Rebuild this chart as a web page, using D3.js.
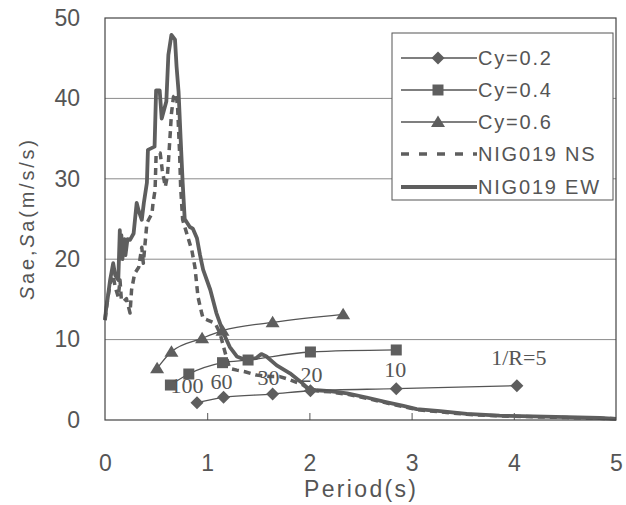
<!DOCTYPE html>
<html>
<head>
<meta charset="utf-8">
<script src="https://cdn.jsdelivr.net/npm/d3@7"></script>
<style>
  html, body { margin: 0; padding: 0; background: #fff; }
  svg { display: block; }
  text { fill: #555; }
</style>
</head>
<body>
<svg id="chart" width="626" height="505"></svg>
<script>
// ---------------- data ----------------
const rLabels = ["100", "60", "30", "20", "10", "1/R=5"];

const cy02T  = [0.90, 1.16, 1.64, 2.01, 2.85, 4.03];
const cy02Sa = [2.15, 2.82, 3.23, 3.64, 3.89, 4.27];

const cy04T  = [0.64, 0.82, 1.15, 1.40, 2.01, 2.85];
const cy04Sa = [4.35, 5.72, 7.13, 7.46, 8.46, 8.71];

const cy06T  = [0.51, 0.65, 0.95, 1.15, 1.64, 2.33];
const cy06Sa = [6.43, 8.50, 10.16, 11.11, 12.15, 13.15];

const ewT  = [0.00,0.01,0.03,0.05,0.08,0.10,0.13,0.145,0.15,0.16,0.17,0.19,0.20,0.22,0.245,0.28,0.31,0.33,0.36,0.38,0.41,0.42,0.485,0.50,0.535,0.555,0.60,0.62,0.65,0.685,0.70,0.72,0.74,0.76,0.78,0.83,0.86,0.90,0.93,0.96,1.03,1.09,1.16,1.22,1.29,1.37,1.48,1.53,1.58,1.68,1.81,1.91,1.99,2.07,2.20,2.37,2.56,2.76,2.92,3.05,3.28,3.54,3.86,4.19,4.52,4.84,5.00];
const ewSa = [12.4,13.7,15.5,17.4,19.5,18.0,17.4,23.6,20.5,23.0,20.0,22.5,20.5,22.5,22.4,23.2,27.0,26.0,24.9,27.0,29.5,33.6,34.0,41.0,41.0,37.5,39.6,45.4,47.9,47.3,44.0,40.8,35.0,29.5,25.0,24.0,23.8,22.6,20.5,18.7,16.2,13.3,10.8,9.1,7.9,7.5,7.7,8.2,7.9,6.8,5.8,4.8,3.9,3.7,3.6,3.3,2.8,2.2,1.75,1.35,1.1,0.75,0.55,0.45,0.35,0.25,0.15];

const nsT  = [0.00,0.02,0.05,0.08,0.10,0.13,0.147,0.16,0.18,0.21,0.245,0.26,0.29,0.33,0.36,0.375,0.41,0.46,0.47,0.49,0.50,0.54,0.56,0.59,0.61,0.62,0.63,0.64,0.65,0.67,0.695,0.71,0.73,0.74,0.76,0.80,0.85,0.88,0.91,0.946,0.96,1.01,1.08,1.125,1.16,1.19,1.21,1.22,1.29,1.37,1.48,1.61,1.71,1.81,1.94,2.00,2.10,2.20,2.37,2.56,2.76,2.92,3.05,3.28,3.54,3.86,4.19,4.52,4.84,5.00];
const nsSa = [12.5,14.5,17.0,18.0,16.5,15.3,17.4,15.0,14.7,15.1,13.3,16.2,18.2,19.0,21.5,19.5,24.5,25.7,27.0,28.6,33.0,33.2,31.1,29.0,30.3,32.0,34.0,36.0,38.1,40.2,40.6,39.0,33.2,29.0,24.9,23.2,21.1,19.0,15.3,13.3,12.65,12.4,12.0,10.8,9.1,7.7,6.85,6.4,6.2,6.0,5.6,5.4,5.4,5.0,4.35,3.75,3.6,3.5,3.2,2.7,2.1,1.65,1.3,1.0,0.7,0.5,0.4,0.3,0.22,0.15];

const xTicks = [0, 1, 2, 3, 4, 5];
const yTicks = [0, 10, 20, 30, 40, 50];
const legendNames = ["Cy=0.2", "Cy=0.4", "Cy=0.6", "NIG019 NS", "NIG019 EW"];

// ---------------- layout ----------------
const svg = d3.select("#chart");
const X0 = 105, X1 = 616, Y0 = 420, Y1 = 18;
const x = d3.scaleLinear().domain([0, 5]).range([X0, X1]);
const y = d3.scaleLinear().domain([0, 50]).range([Y0, Y1]);
const ink = "#5e5e5e";
const sansFont = "'Liberation Sans', Arial, sans-serif";
const serifFont = "'Liberation Serif', 'Times New Roman', serif";

const zip = (a, b) => a.map((v, i) => [v, b[i]]);

// gridlines
svg.append("g").selectAll("line")
  .data(yTicks.filter(v => v > 0 && v < 50))
  .join("line")
  .attr("x1", X0).attr("x2", X1)
  .attr("y1", d => y(d)).attr("y2", d => y(d))
  .attr("stroke", "#8a8a8a").attr("stroke-width", 1);

// inward ticks on bottom axis
const tickG = svg.append("g").attr("transform", `translate(0,${Y0})`)
  .call(d3.axisBottom(x).tickValues(xTicks.filter(v => v > 0 && v < 5)).tickSizeInner(-7).tickSizeOuter(0).tickFormat(""));
tickG.select(".domain").remove();
tickG.selectAll("line").attr("stroke", "#555");

// x tick labels
const xAx = svg.append("g").attr("transform", `translate(0,${Y0})`)
  .call(d3.axisBottom(x).tickValues(xTicks).tickSize(0).tickPadding(35).tickFormat(d3.format("d")));
xAx.select(".domain").remove();
xAx.selectAll("text").attr("font-family", sansFont).attr("font-size", 23).attr("fill", "#555");

// y tick labels
const yAx = svg.append("g").attr("transform", `translate(${X0},0)`)
  .call(d3.axisLeft(y).tickValues(yTicks).tickSize(0).tickPadding(25).tickFormat(d3.format("d")));
yAx.select(".domain").remove();
yAx.selectAll("text").attr("font-family", sansFont).attr("font-size", 23).attr("fill", "#555");

// axis titles
svg.append("text")
  .attr("x", 360).attr("y", 497)
  .attr("text-anchor", "middle")
  .attr("font-family", sansFont).attr("font-size", 23)
  .attr("textLength", 112).attr("lengthAdjust", "spacing")
  .text("Period(s)");

const yt = svg.append("text")
  .attr("transform", "translate(34,220) rotate(-90)")
  .attr("text-anchor", "middle")
  .attr("font-family", sansFont).attr("font-size", 20)
  .attr("textLength", 160).attr("lengthAdjust", "spacing");
yt.append("tspan").attr("font-style", "italic").text("S");
yt.append("tspan").text("ae,");
yt.append("tspan").attr("font-style", "italic").text("S");
yt.append("tspan").text("a(m/s/s)");

// ---------------- spectra ----------------
const line = d3.line().x(d => x(d[0])).y(d => y(d[1]));
const plot = svg.append("g");

plot.append("path")
  .datum(zip(nsT, nsSa))
  .attr("d", line)
  .attr("fill", "none").attr("stroke", ink)
  .attr("stroke-width", 3.5).attr("stroke-dasharray", "7,5")
  .attr("stroke-linejoin", "round");

plot.append("path")
  .datum(zip(ewT, ewSa))
  .attr("d", line)
  .attr("fill", "none").attr("stroke", ink)
  .attr("stroke-width", 3.8).attr("stroke-linejoin", "round");

// ---------------- Cy series ----------------
const shapes = {
  diamond: "M0,-6.5L6.5,0L0,6.5L-6.5,0Z",
  square: "M-5.5,-5.5H5.5V5.5H-5.5Z",
  triangle: "M0,-6.5L7,5L-7,5Z"
};
const series = [
  { name: legendNames[0], data: zip(cy02T, cy02Sa), shape: "diamond" },
  { name: legendNames[1], data: zip(cy04T, cy04Sa), shape: "square" },
  { name: legendNames[2], data: zip(cy06T, cy06Sa), shape: "triangle" }
];
const smooth = d3.line().x(d => x(d[0])).y(d => y(d[1])).curve(d3.curveMonotoneX);

series.forEach(s => {
  plot.append("path").datum(s.data).attr("d", smooth)
    .attr("fill", "none").attr("stroke", "#555").attr("stroke-width", 1.3);
  plot.append("g").selectAll("path").data(s.data).join("path")
    .attr("d", shapes[s.shape])
    .attr("transform", d => `translate(${x(d[0])},${y(d[1])})`)
    .attr("fill", ink);
});

// 1/R labels (positioned relative to the Cy=0.2 markers)
const labelDx = [-10, -2, -4, 1, -1, 2];
const labelDy = [-10, -8, -9, -9, -12, -21];
plot.append("g").selectAll("text").data(rLabels).join("text")
  .attr("x", (d, i) => x(cy02T[i]) + labelDx[i])
  .attr("y", (d, i) => y(cy02Sa[i]) + labelDy[i])
  .attr("text-anchor", "middle")
  .attr("font-family", serifFont).attr("font-size", 22)
  .attr("fill", "#555")
  .text(d => d);

// plot border
svg.append("rect")
  .attr("x", X0).attr("y", Y1).attr("width", X1 - X0).attr("height", Y0 - Y1)
  .attr("fill", "none").attr("stroke", "#444").attr("stroke-width", 1.2);

// ---------------- legend ----------------
const lg = svg.append("g");
lg.append("rect").attr("x", 392).attr("y", 33).attr("width", 221).attr("height", 167)
  .attr("fill", "#fff").attr("stroke", "#555").attr("stroke-width", 1);
const rowsY = [58, 90, 122, 154, 187];
const lStyles = [
  { w: 1.3, dash: null, shape: "diamond" },
  { w: 1.3, dash: null, shape: "square" },
  { w: 1.3, dash: null, shape: "triangle" },
  { w: 3.5, dash: "8,10", shape: null },
  { w: 3.8, dash: null, shape: null }
];
legendNames.forEach((name, i) => {
  const st = lStyles[i];
  const ln = lg.append("line").attr("x1", 401).attr("x2", 477)
    .attr("y1", rowsY[i]).attr("y2", rowsY[i])
    .attr("stroke", i < 3 ? "#555" : ink).attr("stroke-width", st.w);
  if (st.dash) ln.attr("stroke-dasharray", st.dash);
  if (st.shape) lg.append("path").attr("d", shapes[st.shape])
    .attr("transform", `translate(438,${rowsY[i]})`).attr("fill", ink);
  lg.append("text").attr("x", 478).attr("y", rowsY[i]).attr("dy", "0.36em")
    .attr("font-family", sansFont).attr("font-size", 20)
    .attr("letter-spacing", 1.8)
    .text(name);
});
</script>
</body>
</html>
